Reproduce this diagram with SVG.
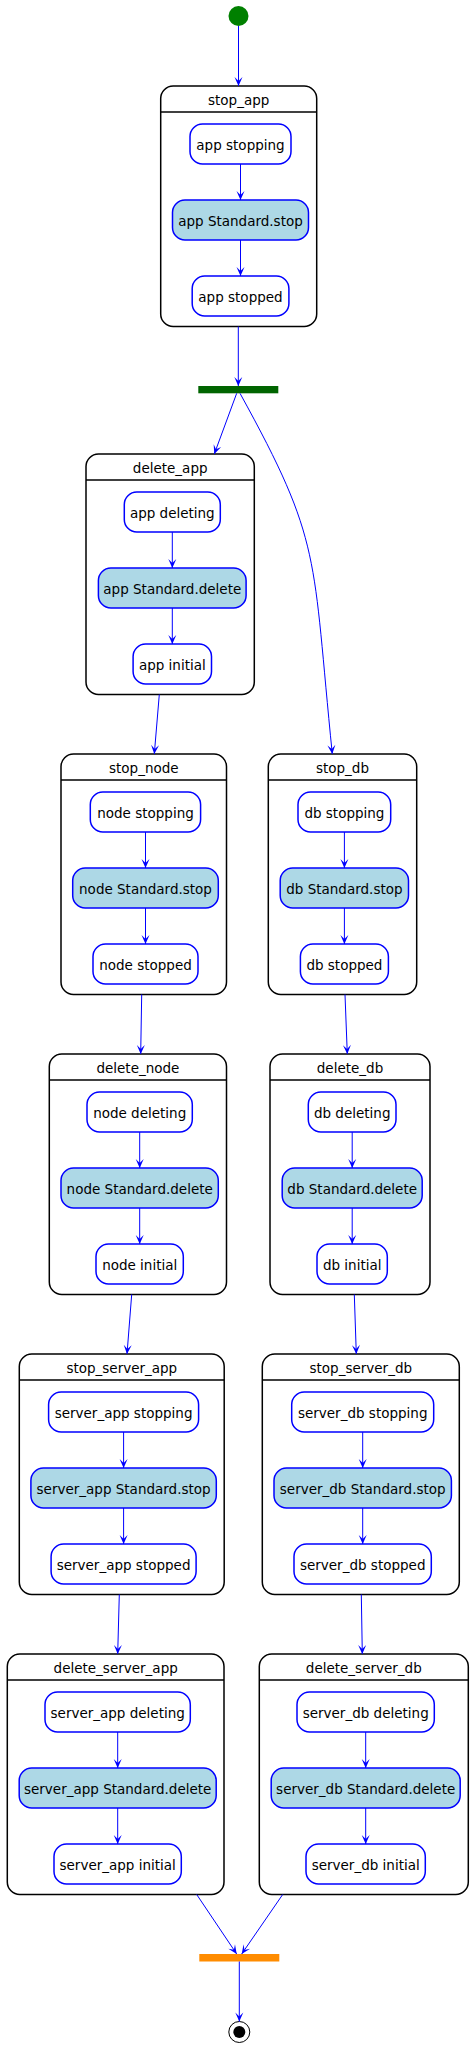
<svg xmlns="http://www.w3.org/2000/svg" width="474" height="2047" viewBox="0 0 474 2047">
<style>
.comp{fill:#FFFFFF;stroke:#000000;stroke-width:1.5}
.hdr{stroke:#000000;stroke-width:1.5}
.st{fill:#FFFFFF;stroke:#0000FF;stroke-width:1.5}
.act{fill:#ADD8E6;stroke:#0000FF;stroke-width:1.5}
.t{font-family:"DejaVu Sans","Liberation Sans",sans-serif;font-size:13.5px;fill:#000000;text-anchor:middle}
.e{fill:none;stroke:#0000FF;stroke-width:1;marker-end:url(#ah)}
</style>
<defs>
<marker id="ah" viewBox="-10 -5 11 10" refX="0" refY="0" markerWidth="11" markerHeight="10" markerUnits="userSpaceOnUse" orient="auto">
<path d="M0,0 L-9,-4 L-5,0 L-9,4 Z" fill="#0000FF"/>
</marker>
</defs>

<g id="start"><circle cx="238.5" cy="16" r="10" fill="#008000"/></g>

<g id="stop_app">
<rect class="comp" x="160.7" y="86" width="156" height="240.5" rx="12.5"/>
<line class="hdr" x1="160.7" y1="112" x2="316.7" y2="112"/>
<text class="t" x="238.7" y="104.5">stop_app</text>
<rect class="st" x="190" y="124" width="101" height="40" rx="12.5"/><text class="t" x="240.5" y="149.5">app stopping</text>
<rect class="act" x="172.5" y="200" width="136" height="40" rx="12.5"/><text class="t" x="240.5" y="225.5">app Standard.stop</text>
<rect class="st" x="192.2" y="276" width="96.7" height="40" rx="12.5"/><text class="t" x="240.5" y="301.5">app stopped</text>
</g>

<g id="fork"><rect x="198.3" y="386" width="80" height="7.3" fill="#006400"/></g>

<g id="delete_app">
<rect class="comp" x="86" y="454" width="168.3" height="240.5" rx="12.5"/>
<line class="hdr" x1="86" y1="480" x2="254.3" y2="480"/>
<text class="t" x="170.2" y="472.5">delete_app</text>
<rect class="st" x="124.3" y="492" width="96" height="40" rx="12.5"/><text class="t" x="172.3" y="517.5">app deleting</text>
<rect class="act" x="98.4" y="568" width="147.7" height="40" rx="12.5"/><text class="t" x="172.3" y="593.5">app Standard.delete</text>
<rect class="st" x="133.1" y="644" width="78.4" height="40" rx="12.5"/><text class="t" x="172.3" y="669.5">app initial</text>
</g>

<g id="stop_node">
<rect class="comp" x="61" y="754" width="165.5" height="240.5" rx="12.5"/>
<line class="hdr" x1="61" y1="780" x2="226.5" y2="780"/>
<text class="t" x="143.8" y="772.5">stop_node</text>
<rect class="st" x="90.3" y="792" width="110.3" height="40" rx="12.5"/><text class="t" x="145.5" y="817.5">node stopping</text>
<rect class="act" x="72.7" y="868" width="145.6" height="40" rx="12.5"/><text class="t" x="145.5" y="893.5">node Standard.stop</text>
<rect class="st" x="93" y="944" width="105" height="40" rx="12.5"/><text class="t" x="145.5" y="969.5">node stopped</text>
</g>

<g id="stop_db">
<rect class="comp" x="268.3" y="754" width="148.4" height="240.5" rx="12.5"/>
<line class="hdr" x1="268.3" y1="780" x2="416.7" y2="780"/>
<text class="t" x="342.5" y="772.5">stop_db</text>
<rect class="st" x="298" y="792" width="92.7" height="40" rx="12.5"/><text class="t" x="344.4" y="817.5">db stopping</text>
<rect class="act" x="280.2" y="868" width="128.3" height="40" rx="12.5"/><text class="t" x="344.4" y="893.5">db Standard.stop</text>
<rect class="st" x="300.4" y="944" width="88" height="40" rx="12.5"/><text class="t" x="344.4" y="969.5">db stopped</text>
</g>

<g id="delete_node">
<rect class="comp" x="49.3" y="1054" width="177.2" height="240.5" rx="12.5"/>
<line class="hdr" x1="49.3" y1="1080" x2="226.5" y2="1080"/>
<text class="t" x="137.9" y="1072.5">delete_node</text>
<rect class="st" x="87" y="1092" width="105.3" height="40" rx="12.5"/><text class="t" x="139.7" y="1117.5">node deleting</text>
<rect class="act" x="61" y="1168" width="157.3" height="40" rx="12.5"/><text class="t" x="139.7" y="1193.5">node Standard.delete</text>
<rect class="st" x="96" y="1244" width="87.3" height="40" rx="12.5"/><text class="t" x="139.7" y="1269.5">node initial</text>
</g>

<g id="delete_db">
<rect class="comp" x="270" y="1054" width="160" height="240.5" rx="12.5"/>
<line class="hdr" x1="270" y1="1080" x2="430" y2="1080"/>
<text class="t" x="350" y="1072.5">delete_db</text>
<rect class="st" x="308.3" y="1092" width="87.7" height="40" rx="12.5"/><text class="t" x="352.2" y="1117.5">db deleting</text>
<rect class="act" x="282.2" y="1168" width="140" height="40" rx="12.5"/><text class="t" x="352.2" y="1193.5">db Standard.delete</text>
<rect class="st" x="317" y="1244" width="70.3" height="40" rx="12.5"/><text class="t" x="352.2" y="1269.5">db initial</text>
</g>

<g id="stop_server_app">
<rect class="comp" x="19.3" y="1354" width="204.9" height="240.5" rx="12.5"/>
<line class="hdr" x1="19.3" y1="1380" x2="224.2" y2="1380"/>
<text class="t" x="121.8" y="1372.5">stop_server_app</text>
<rect class="st" x="48.6" y="1392" width="150" height="40" rx="12.5"/><text class="t" x="123.6" y="1417.5">server_app stopping</text>
<rect class="act" x="30.9" y="1468" width="185.4" height="40" rx="12.5"/><text class="t" x="123.6" y="1493.5">server_app Standard.stop</text>
<rect class="st" x="51.1" y="1544" width="145" height="40" rx="12.5"/><text class="t" x="123.6" y="1569.5">server_app stopped</text>
</g>

<g id="stop_server_db">
<rect class="comp" x="262.3" y="1354" width="197" height="240.5" rx="12.5"/>
<line class="hdr" x1="262.3" y1="1380" x2="459.3" y2="1380"/>
<text class="t" x="360.8" y="1372.5">stop_server_db</text>
<rect class="st" x="291.7" y="1392" width="142" height="40" rx="12.5"/><text class="t" x="362.7" y="1417.5">server_db stopping</text>
<rect class="act" x="274" y="1468" width="177.4" height="40" rx="12.5"/><text class="t" x="362.7" y="1493.5">server_db Standard.stop</text>
<rect class="st" x="294" y="1544" width="137.3" height="40" rx="12.5"/><text class="t" x="362.7" y="1569.5">server_db stopped</text>
</g>

<g id="delete_server_app">
<rect class="comp" x="7.3" y="1654" width="216.7" height="240.5" rx="12.5"/>
<line class="hdr" x1="7.3" y1="1680" x2="224" y2="1680"/>
<text class="t" x="115.7" y="1672.5">delete_server_app</text>
<rect class="st" x="45" y="1692" width="145.3" height="40" rx="12.5"/><text class="t" x="117.7" y="1717.5">server_app deleting</text>
<rect class="act" x="19.2" y="1768" width="197" height="40" rx="12.5"/><text class="t" x="117.7" y="1793.5">server_app Standard.delete</text>
<rect class="st" x="54" y="1844" width="127.3" height="40" rx="12.5"/><text class="t" x="117.7" y="1869.5">server_app initial</text>
</g>

<g id="delete_server_db">
<rect class="comp" x="259.3" y="1654" width="209" height="240.5" rx="12.5"/>
<line class="hdr" x1="259.3" y1="1680" x2="468.3" y2="1680"/>
<text class="t" x="363.8" y="1672.5">delete_server_db</text>
<rect class="st" x="297" y="1692" width="137.3" height="40" rx="12.5"/><text class="t" x="365.7" y="1717.5">server_db deleting</text>
<rect class="act" x="271.2" y="1768" width="189" height="40" rx="12.5"/><text class="t" x="365.7" y="1793.5">server_db Standard.delete</text>
<rect class="st" x="306" y="1844" width="119.3" height="40" rx="12.5"/><text class="t" x="365.7" y="1869.5">server_db initial</text>
</g>

<g id="join"><rect x="199.3" y="1954" width="80" height="7.5" fill="#FF8C00"/></g>

<g id="end">
<circle cx="239.3" cy="2032" r="10.5" fill="#FFFFFF" stroke="#000000" stroke-width="1"/>
<circle cx="239.3" cy="2032" r="6" fill="#000000"/>
</g>

<g id="connectors">
<path class="e" d="M238.5,26 L238.5,86"/>
<path class="e" d="M240.5,164 L240.5,200"/>
<path class="e" d="M240.5,240 L240.5,276"/>
<path class="e" d="M238.3,326.5 L238.3,386"/>
<path class="e" d="M236.7,393.3 L214.3,454"/>
<path class="e" d="M240,393.3 C322.5,543 312,554 332.3,754"/>
<path class="e" d="M172.3,532 L172.3,568"/>
<path class="e" d="M172.3,608 L172.3,644"/>
<path class="e" d="M159.3,694.5 L154.3,754"/>
<path class="e" d="M145.5,832 L145.5,868"/>
<path class="e" d="M145.5,908 L145.5,944"/>
<path class="e" d="M344.4,832 L344.4,868"/>
<path class="e" d="M344.4,908 L344.4,944"/>
<path class="e" d="M141.7,994.5 L140.7,1054"/>
<path class="e" d="M345,994.5 L347.3,1054"/>
<path class="e" d="M139.7,1132 L139.7,1168"/>
<path class="e" d="M139.7,1208 L139.7,1244"/>
<path class="e" d="M352.2,1132 L352.2,1168"/>
<path class="e" d="M352.2,1208 L352.2,1244"/>
<path class="e" d="M131.7,1294.5 L127,1354"/>
<path class="e" d="M354.3,1294.5 L356.3,1354"/>
<path class="e" d="M123.6,1432 L123.6,1468"/>
<path class="e" d="M123.6,1508 L123.6,1544"/>
<path class="e" d="M362.7,1432 L362.7,1468"/>
<path class="e" d="M362.7,1508 L362.7,1544"/>
<path class="e" d="M119.3,1594.5 L117.7,1654"/>
<path class="e" d="M361.3,1594.5 L362.3,1654"/>
<path class="e" d="M117.7,1732 L117.7,1768"/>
<path class="e" d="M117.7,1808 L117.7,1844"/>
<path class="e" d="M365.7,1732 L365.7,1768"/>
<path class="e" d="M365.7,1808 L365.7,1844"/>
<path class="e" d="M196.7,1894.5 L236.7,1954"/>
<path class="e" d="M282.7,1894.5 L241.7,1954"/>
<path class="e" d="M239.3,1961.5 L239.3,2021.5"/>
</g>
</svg>
